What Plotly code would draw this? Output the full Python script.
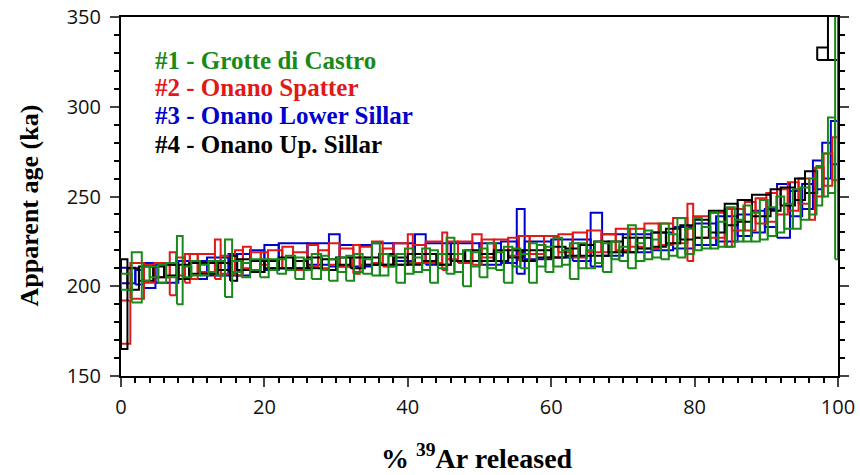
import plotly.graph_objects as go

# ---------------- data: cumulative % 39Ar at the end of each step, apparent age (ka), 2-sigma error (ka)
g_end = [1.5, 2.9, 4.0, 5.2, 6.3, 7.8, 8.6, 9.8, 11.0, 12.2,
         13.3, 14.5, 15.5, 16.8, 18.0, 19.4, 20.6, 21.8, 23.0, 24.3,
         25.5, 26.6, 27.9, 29.0, 30.2, 31.4, 32.5, 33.7, 35.0, 36.1,
         37.3, 38.4, 39.6, 40.8, 42.0, 43.1, 44.2, 45.4, 46.5, 47.7,
         48.8, 50.0, 51.1, 52.3, 53.4, 54.6, 55.7, 56.9, 58.0, 59.2,
         60.3, 61.5, 62.6, 63.8, 64.9, 66.1, 67.2, 68.4, 69.5, 70.7,
         71.8, 73.0, 74.1, 75.3, 76.4, 77.6, 78.7, 79.9, 81.0, 82.2,
         83.3, 84.5, 85.6, 86.8, 87.9, 89.1, 90.2, 91.4, 92.5, 93.7,
         94.8, 96.0, 97.0, 97.8, 98.6, 99.6, 100.0]
g_age = [202.5, 205, 207, 208, 207, 209, 209, 208, 210, 209,
         211, 210, 210, 211, 209, 212, 210, 212, 211, 213,
         210, 212, 211, 213, 209, 212, 210, 213, 211, 215,
         212, 214, 210, 214, 212, 215, 211, 214, 217, 213,
         210, 215, 213, 217, 214, 212, 216, 214, 213, 217,
         215, 219, 216, 214, 217, 215, 219, 216, 220, 218,
         222, 219, 223, 221, 225, 223, 227, 225, 229, 227,
         231, 229, 233, 231, 235, 233, 237, 236, 240, 239,
         243, 246, 250, 256, 262, 273, 285]
g_err = [4.5, 14, 4, 3, 5, 4, 19, 3, 4, 3,
         3, 4, 16, 3, 4, 3, 5, 3, 4, 4,
         6, 3, 7, 4, 6, 4, 7, 5, 4, 9,
         6, 3, 8, 7, 4, 6, 9, 4, 10, 5,
         10, 4, 8, 7, 5, 10, 5, 4, 11, 6,
         7, 8, 4, 10, 7, 5, 6, 8, 5, 4,
         12, 5, 8, 5, 10, 6, 11, 7, 9, 6,
         10, 7, 11, 6, 10, 8, 11, 8, 10, 7,
         11, 9, 10, 11, 12, 21, 70]

r_end = [1.3, 3.2, 4.7, 6.8, 7.7, 8.9, 9.6, 10.7, 13.1, 13.9,
         15.9, 17.0, 18.1, 19.5, 20.5, 22.5, 24.0, 26.0, 27.5, 29.0,
         30.5, 32.4, 33.3, 35.0, 36.5, 38.0, 40.0, 40.7, 42.5, 44.8,
         45.5, 47.0, 49.0, 50.3, 52.0, 54.0, 55.5, 57.0, 59.0, 61.0,
         63.0, 65.0, 67.0, 69.0, 71.0, 73.0, 75.0, 77.0, 79.0, 79.8,
         82.0, 84.2, 85.2, 87.0, 88.5, 90.0, 91.5, 93.0, 94.5, 96.0,
         96.8, 98.0, 99.2, 100.0]
r_age = [180, 203, 207, 209, 207, 211, 210, 211, 213, 215,
         212, 213, 216, 214, 215.5, 215, 216, 214, 217, 215,
         218, 216, 215, 217, 219, 216, 218, 221, 218, 219,
         219.5, 220, 219, 220.5, 221, 220, 222, 221, 223, 222,
         224, 223, 225, 224, 226, 227, 228, 229, 231, 230,
         233, 234, 232.5, 237, 239, 242, 244, 247, 250, 253,
         244.5, 258, 265, 271]
r_err = [12, 10, 5, 4, 12, 5, 8, 7, 5, 11,
         5, 7, 6, 5, 3.5, 5, 6, 5, 6, 5,
         6, 5, 8, 5, 6, 5, 6, 8, 5, 6,
         10.5, 5, 6, 8.5, 5, 6, 5, 7, 5, 6,
         5, 7, 6, 5, 6, 5, 7, 6, 7, 16,
         6, 7, 10.5, 6, 8, 7, 8, 7, 8, 7,
         7.5, 8, 9, 12]

b_end = [2.0, 3.2, 4.8, 8.0, 12.0, 15.0, 18.0, 20.0, 22.0, 26.0,
         29.0, 30.5, 35.0, 38.0, 41.0, 42.5, 46.0, 50.0, 53.0, 55.2,
         56.3, 60.0, 63.0, 65.5, 67.1, 70.0, 74.0, 77.0, 80.0, 83.0,
         86.0, 88.0, 89.8, 91.5, 93.3, 95.0, 96.5, 97.8, 99.0, 100.0]
b_age = [206, 205, 206, 207, 209, 211, 212, 214, 216, 217,
         218, 220, 217, 218, 219, 221, 218, 219, 218, 219,
         225, 220, 221, 220, 226, 223, 224, 225, 227, 229,
         232, 234, 236, 238, 242, 246, 250, 262, 270, 280]
b_err = [4.3, 4, 7, 5, 5, 5, 6, 6, 7, 7,
         6, 9, 6, 6, 5, 8, 6, 5, 6, 6,
         18, 5, 5, 6, 15, 6, 5, 5, 6, 6,
         7, 6, 6, 5, 15, 7, 7, 8, 10, 12]

k_end = [0.9, 2.5, 4.5, 6.0, 8.0, 9.5, 11.0, 13.5, 15.2, 16.2,
         18.0, 20.0, 22.0, 24.0, 26.0, 28.0, 30.0, 32.0, 34.0, 36.0,
         38.0, 40.0, 42.0, 44.0, 46.0, 48.0, 50.0, 52.0, 54.0, 56.0,
         58.0, 60.0, 62.0, 64.0, 66.0, 68.0, 70.0, 72.0, 74.0, 76.0,
         78.0, 80.0, 82.0, 84.2, 86.0, 88.0, 90.6, 92.0, 94.0, 95.4,
         97.1, 98.6, 100.0]
k_age = [190, 204, 207, 208, 209, 208, 210, 210, 211, 210,
         212, 211, 212, 213, 212, 213, 212, 214, 213, 214,
         215, 214, 215, 216, 215, 216, 217, 216, 217, 218,
         217, 218, 219, 219, 220, 221, 222, 223, 224, 226,
         228, 230, 232, 236, 240, 242, 245, 248, 250, 254,
         258, 329.5, 365]
k_err = [25, 6, 4, 3, 3, 4, 3, 3, 2, 7,
         3, 3, 2, 3, 2, 3, 3, 2, 3, 2,
         3, 2, 3, 2, 3, 2, 3, 2, 3, 2,
         3, 2, 3, 2, 3, 4, 3, 4, 3, 4,
         4, 4, 5, 6, 6, 6, 6, 6, 5, 6,
         6, 3.5, 39]

labels = ["#1 - Grotte di Castro", "#2 - Onano Spatter",
          "#3 - Onano Lower Sillar", "#4 - Onano Up. Sillar"]
colors = ["#198a19", "#e01919", "#0000cc", "#000000"]

series = {
    0: (g_end, g_age, g_err),
    1: (r_end, r_age, r_err),
    2: (b_end, b_age, b_err),
    3: (k_end, k_age, k_err),
}
for e, a, s in series.values():
    assert len(e) == len(a) == len(s)


def boxes(ends, ages, errs):
    xs, ys = [], []
    start = 0.0
    for e, a, s in zip(ends, ages, errs):
        lo, hi = a - s, a + s
        xs += [start, e, e, start, start, None]
        ys += [lo, lo, hi, hi, lo, None]
        start = e
    return xs, ys


fig = go.Figure()
for idx in [2, 1, 3, 0]:
    xs, ys = boxes(*series[idx])
    fig.add_trace(go.Scatter(x=xs, y=ys, mode="lines",
                             line=dict(color=colors[idx], width=2),
                             name=labels[idx], showlegend=False,
                             hoverinfo="skip"))

tickfont = dict(family="Open Sans", size=20, color="#111111")
fig.update_xaxes(range=[0, 100], dtick=20, tick0=0, ticks="outside",
                 ticklen=9, tickwidth=2, linewidth=2, linecolor="black",
                 showline=True, mirror=True, showgrid=False, zeroline=False,
                 tickfont=tickfont, automargin=False, ticklabelstandoff=3,
                 minor=dict(dtick=2, ticks="outside", ticklen=5, tickwidth=1.5,
                            tickcolor="black", showgrid=False))
fig.update_yaxes(range=[150, 350], dtick=50, tick0=150, ticks="outside",
                 ticklen=9, tickwidth=2, linewidth=2, linecolor="black",
                 showline=True, mirror="allticks", showgrid=False, zeroline=False,
                 tickfont=tickfont, automargin=False, ticklabelstandoff=5,
                 minor=dict(dtick=10, ticks="outside", ticklen=5, tickwidth=1.5,
                            tickcolor="black", showgrid=False))

serif = "Liberation Serif"
ann = []
ann.append(dict(text="<b>Apparent age (ka)</b>", xref="paper", yref="paper",
                x=-0.127, y=0.475, textangle=-90, showarrow=False,
                font=dict(family=serif, size=26, color="black"),
                xanchor="center", yanchor="middle"))
ann.append(dict(text="<b>% <sup>39</sup>Ar released</b>", xref="paper", yref="paper",
                x=0.497, y=-0.279, showarrow=False,
                font=dict(family=serif, size=28, color="black"),
                xanchor="center", yanchor="bottom"))
leg_y = [0.880, 0.803, 0.725, 0.644]
for i in range(4):
    ann.append(dict(text="<b>" + labels[i] + "</b>", xref="paper", yref="paper",
                    x=0.045, y=leg_y[i], showarrow=False,
                    font=dict(family=serif, size=25, color=colors[i]),
                    xanchor="left", yanchor="middle"))

fig.update_layout(width=860, height=475,
                  margin=dict(l=121, r=22, t=17, b=99, autoexpand=False),
                  paper_bgcolor="white", plot_bgcolor="white",
                  annotations=ann, showlegend=False)

fig.write_html("out.html")
